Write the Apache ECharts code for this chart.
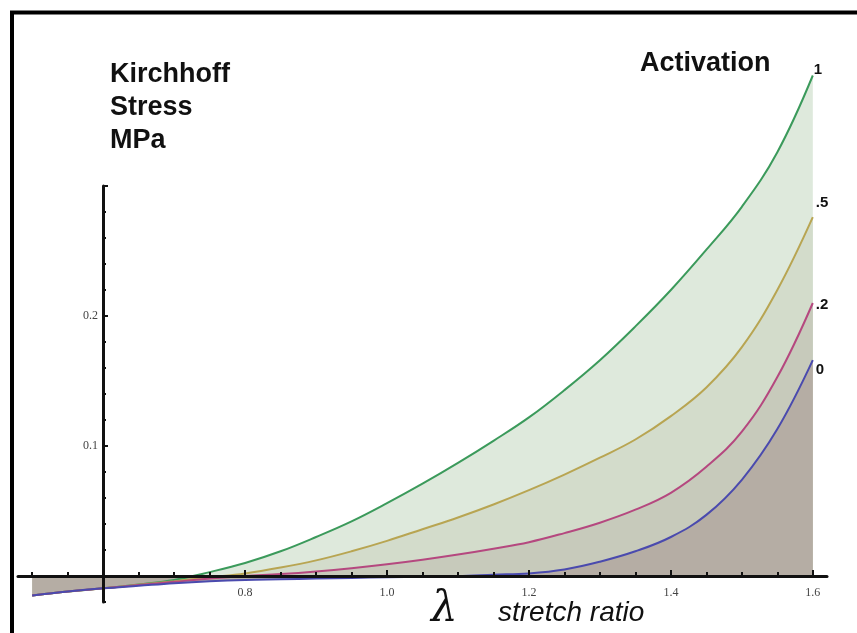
<!DOCTYPE html>
<html>
<head>
<meta charset="utf-8">
<script src="https://cdn.jsdelivr.net/npm/echarts@6/dist/echarts.min.js"></script>
<style>html,body{margin:0;padding:0;background:#fff}#c{width:857px;height:633px}</style>
</head>
<body>
<div id="c"></div>
<script>
// stretch ratio λ
const lambda = [0.5,0.55,0.6,0.65,0.7,0.75,0.8,0.85,0.9,0.95,1.0,1.05,1.1,1.15,1.2,1.25,1.3,1.35,1.4,1.45,1.5,1.55,1.6];
// Kirchhoff stress (MPa) per activation level
const act1  = [-0.015,-0.012,-0.0095,-0.0065,-0.003,0.003,0.010,0.019,0.030,0.042,0.056,0.071,0.087,0.104,0.122,0.143,0.166,0.192,0.220,0.251,0.284,0.326,0.385];
const act05 = [-0.015,-0.012,-0.0095,-0.0068,-0.004,-0.001,0.002,0.0065,0.012,0.019,0.027,0.036,0.045,0.055,0.066,0.078,0.091,0.105,0.123,0.145,0.176,0.220,0.276];
const act02 = [-0.015,-0.012,-0.0095,-0.007,-0.0045,-0.002,0.000,0.0015,0.0035,0.006,0.009,0.0125,0.0165,0.021,0.026,0.033,0.041,0.051,0.064,0.084,0.111,0.153,0.210];
const act0  = [-0.015,-0.012,-0.0095,-0.0075,-0.0055,-0.004,-0.003,-0.0025,-0.002,-0.0015,-0.001,-0.0005,0.000,0.001,0.002,0.005,0.011,0.019,0.030,0.047,0.074,0.113,0.166];
const seriesNames = ['1', '.5', '.2', '0'];
const xMajorTicks = [0.6,0.8,1.0,1.2,1.4,1.6];
const xMinorTicks = [0.5,0.55,0.6,0.65,0.7,0.75,0.8,0.85,0.9,0.95,1.0,1.05,1.1,1.15,1.2,1.25,1.3,1.35,1.4,1.45,1.5,1.55,1.6];
const xTickLabels = [0.8,1.0,1.2,1.4,1.6];
const yMajorTicks = [0.1,0.2,0.3];
const yMinorTicks = [-0.02,0,0.02,0.04,0.06,0.08,0.1,0.12,0.14,0.16,0.18,0.2,0.22,0.24,0.26,0.28,0.3];
const yTickLabels = [0.1,0.2];

const allSeries = [act1, act05, act02, act0];
const lineColors = ['#3b9a5b', '#b8a552', '#b5487f', '#4a4aae'];
const areaColors = ['#dee9dc', '#d3dccb', '#c7cabb', '#b5ada4'];
const labelOffsets = [[-2,-6],[0,-14],[0,2],[0,10]];

const pairs = arr => arr.map((v,i)=>[lambda[i], v]);

const series = [];
allSeries.forEach((arr, i) => {
  series.push({
    type: 'line', name: seriesNames[i] + ' area', data: pairs(arr), smooth: 0.4,
    xAxisIndex: 0, yAxisIndex: 0, symbol: 'none', z: 1 + i * 0.01,
    lineStyle: { width: 0, opacity: 0 },
    areaStyle: { color: areaColors[i], opacity: 1 },
    silent: true
  });
});
allSeries.forEach((arr, i) => {
  series.push({
    type: 'line', name: seriesNames[i], data: pairs(arr), smooth: 0.4,
    xAxisIndex: 0, yAxisIndex: 0, symbol: 'none', z: 3,
    lineStyle: { width: 2, color: lineColors[i] },
    endLabel: {
      show: true, formatter: '{a}', distance: 3, offset: labelOffsets[i],
      fontFamily: 'Liberation Sans', fontWeight: 'bold', fontSize: 15, color: '#111'
    },
    silent: true
  });
});

const chart = echarts.init(document.getElementById('c'), null, { renderer: 'canvas' });
chart.setOption({
  animation: false,
  backgroundColor: '#fff',
  grid: [
    { left: 18, right: 30, top: 56, bottom: 31, containLabel: false },
    { left: 103, width: 1, top: 186, bottom: 31, containLabel: false }
  ],
  xAxis: [
    { type: 'value', gridIndex: 0, min: 0.48, max: 1.62, position: 'bottom', z: 10,
      axisLine: { show: true, onZero: true, lineStyle: { color: '#111', width: 3 } },
      axisTick: { show: true, inside: true, length: 6, customValues: xMajorTicks, lineStyle: { color: '#111', width: 2 } },
      axisLabel: { show: true, customValues: xTickLabels, margin: -15, formatter: v => v.toFixed(1),
        fontFamily: 'Liberation Serif', fontSize: 12, color: '#444' },
      splitLine: { show: false } },
    { type: 'value', gridIndex: 1, min: 0, max: 1, show: false },
    { type: 'value', gridIndex: 0, min: 0.48, max: 1.62, position: 'bottom', z: 10,
      axisLine: { show: false, onZero: true, onZeroAxisIndex: 0 },
      axisTick: { show: true, inside: true, length: 4, customValues: xMinorTicks, lineStyle: { color: '#111', width: 2 } },
      axisLabel: { show: false }, splitLine: { show: false } }
  ],
  yAxis: [
    { type: 'value', gridIndex: 0, min: -0.02, max: 0.4, show: false },
    { type: 'value', gridIndex: 1, min: -0.02, max: 0.3, position: 'left', z: 10,
      axisLine: { show: true, onZero: false, lineStyle: { color: '#111', width: 3 } },
      axisTick: { show: true, inside: true, length: 3, customValues: yMinorTicks, lineStyle: { color: '#111', width: 2 } },
      axisLabel: { show: true, customValues: yTickLabels, margin: 5, formatter: v => v.toFixed(1),
        fontFamily: 'Liberation Serif', fontSize: 12, color: '#444' },
      splitLine: { show: false } },
    { type: 'value', gridIndex: 1, min: -0.02, max: 0.3, position: 'left', z: 10,
      axisLine: { show: false, onZero: false },
      axisTick: { show: true, inside: true, length: 5, customValues: yMajorTicks, lineStyle: { color: '#111', width: 2 } },
      axisLabel: { show: false }, splitLine: { show: false } }
  ],
  series: series,
  graphic: [
    { type: 'rect', z: 100, silent: true, shape: { x: 12, y: 12.5, width: 860, height: 640 },
      style: { fill: 'none', stroke: '#000', lineWidth: 4 } },
    { type: 'text', z: 100, left: 110, top: 58, silent: true,
      style: { text: 'Kirchhoff\nStress\nMPa', fontFamily: 'Liberation Sans', fontWeight: 'bold', fontSize: 27, lineHeight: 33, fill: '#111' } },
    { type: 'text', z: 100, left: 640, top: 50, silent: true,
      style: { text: 'Activation', fontFamily: 'Liberation Sans', fontWeight: 'bold', fontSize: 27, fill: '#111' } },
    { type: 'text', z: 100, left: 431, top: 589, silent: true,
      style: { text: 'λ', fontFamily: 'DejaVu Serif', fontStyle: 'italic', fontSize: 42, fill: '#111' } },
    { type: 'text', z: 100, left: 498, top: 599, silent: true,
      style: { text: 'stretch ratio', fontFamily: 'Liberation Sans', fontStyle: 'italic', fontSize: 28, fill: '#111' } }
  ]
});
</script>
</body>
</html>
